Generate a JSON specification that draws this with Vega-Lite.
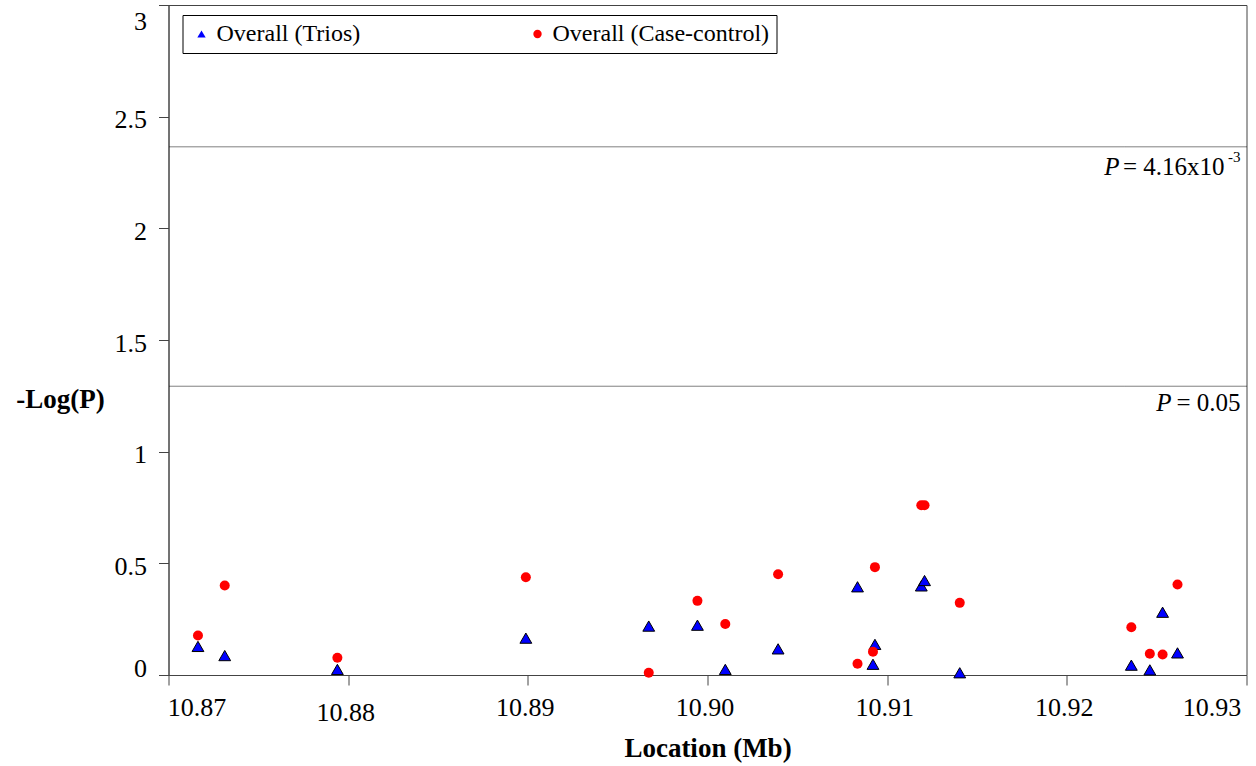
{
  "$schema": "https://vega.github.io/schema/vega-lite/v6.json",
  "width": 1078,
  "height": 670,
  "autosize": {"type": "none"},
  "padding": {"left": 168.5, "top": 5, "right": 9.5, "bottom": 91},
  "background": "white",
  "config": {
    "font": "Liberation Serif",
    "view": {"stroke": "#444", "strokeWidth": 1},
    "axis": {"grid": false, "domainColor": "#444", "tickColor": "#444", "labelColor": "black", "titleColor": "black", "labelFont": "Liberation Serif", "titleFont": "Liberation Serif"}
  },
  "datasets": {
    "points": [
      {"loc": 10.87164, "series": "Overall (Trios)", "logp": 0.128},
      {"loc": 10.87313, "series": "Overall (Trios)", "logp": 0.087},
      {"loc": 10.8794, "series": "Overall (Trios)", "logp": 0.025},
      {"loc": 10.88989, "series": "Overall (Trios)", "logp": 0.165},
      {"loc": 10.89673, "series": "Overall (Trios)", "logp": 0.219},
      {"loc": 10.89944, "series": "Overall (Trios)", "logp": 0.223},
      {"loc": 10.90099, "series": "Overall (Trios)", "logp": 0.025},
      {"loc": 10.90393, "series": "Overall (Trios)", "logp": 0.117},
      {"loc": 10.90835, "series": "Overall (Trios)", "logp": 0.395},
      {"loc": 10.90921, "series": "Overall (Trios)", "logp": 0.048},
      {"loc": 10.90932, "series": "Overall (Trios)", "logp": 0.137},
      {"loc": 10.9119, "series": "Overall (Trios)", "logp": 0.399},
      {"loc": 10.91208, "series": "Overall (Trios)", "logp": 0.423},
      {"loc": 10.91404, "series": "Overall (Trios)", "logp": 0.01},
      {"loc": 10.92359, "series": "Overall (Trios)", "logp": 0.044},
      {"loc": 10.92462, "series": "Overall (Trios)", "logp": 0.023},
      {"loc": 10.92533, "series": "Overall (Trios)", "logp": 0.281},
      {"loc": 10.92616, "series": "Overall (Trios)", "logp": 0.099},
      {"loc": 10.87164, "series": "Overall (Case-control)", "logp": 0.177},
      {"loc": 10.87313, "series": "Overall (Case-control)", "logp": 0.401},
      {"loc": 10.8794, "series": "Overall (Case-control)", "logp": 0.077},
      {"loc": 10.88989, "series": "Overall (Case-control)", "logp": 0.438},
      {"loc": 10.89673, "series": "Overall (Case-control)", "logp": 0.01},
      {"loc": 10.89944, "series": "Overall (Case-control)", "logp": 0.332},
      {"loc": 10.90099, "series": "Overall (Case-control)", "logp": 0.228},
      {"loc": 10.90393, "series": "Overall (Case-control)", "logp": 0.451},
      {"loc": 10.90835, "series": "Overall (Case-control)", "logp": 0.05},
      {"loc": 10.90921, "series": "Overall (Case-control)", "logp": 0.104},
      {"loc": 10.90932, "series": "Overall (Case-control)", "logp": 0.483},
      {"loc": 10.9119, "series": "Overall (Case-control)", "logp": 0.76},
      {"loc": 10.91208, "series": "Overall (Case-control)", "logp": 0.76},
      {"loc": 10.91404, "series": "Overall (Case-control)", "logp": 0.323},
      {"loc": 10.92359, "series": "Overall (Case-control)", "logp": 0.214},
      {"loc": 10.92462, "series": "Overall (Case-control)", "logp": 0.095},
      {"loc": 10.92533, "series": "Overall (Case-control)", "logp": 0.092},
      {"loc": 10.92616, "series": "Overall (Case-control)", "logp": 0.405}
    ],
    "thresholds": [
      {"id": 1, "loc": 10.93, "logp": 2.365, "p": "P", "main": "= 4.16x10", "sup": "-3"},
      {"id": 2, "loc": 10.93, "logp": 1.293, "p": "P", "main": "= 0.05", "sup": ""}
    ]
  },
  "layer": [
    {
      "data": {"name": "thresholds"},
      "mark": {"type": "rule", "stroke": "#000", "strokeDash": [1, 1], "strokeWidth": 1},
      "encoding": {"y": {"field": "logp", "type": "quantitative"}}
    },
    {
      "data": {"name": "points"},
      "mark": {"type": "point", "filled": true, "opacity": 1, "strokeWidth": 1},
      "encoding": {
        "x": {
          "field": "loc", "type": "quantitative",
          "scale": {"domain": [10.87, 10.93], "nice": false, "zero": false},
          "axis": {
            "values": [10.87, 10.88, 10.89, 10.9, 10.91, 10.92, 10.93],
            "format": ".2f",
            "title": "Location (Mb)",
            "titleFontSize": 27, "titleFontWeight": "bold",
            "titleY": 81, "titleBaseline": "alphabetic",
            "labelFontSize": 26, "tickSize": 10,
            "labelPadding": {"condition": {"test": "abs(datum.value - 10.88) < 0.001", "value": 14}, "value": 9},
            "labelOffset": {"condition": [{"test": "datum.value < 10.875", "value": 28}, {"test": "datum.value > 10.925", "value": -35}], "value": -3},
            "labelFlush": false, "labelOverlap": false
          }
        },
        "y": {
          "field": "logp", "type": "quantitative",
          "scale": {"domain": [0, 3], "nice": false},
          "axis": {
            "values": [0, 0.5, 1, 1.5, 2, 2.5, 3],
            "format": "~g",
            "title": "-Log(P)",
            "titleAngle": 0, "titleAlign": "center", "titleBaseline": "alphabetic",
            "titleX": -108.5, "titleY": 402,
            "titleFontSize": 27, "titleFontWeight": "bold",
            "labelFontSize": 26, "tickSize": 10, "labelPadding": 12,
            "labelFlush": false, "labelOverlap": false,
            "labelOffset": {"condition": [{"test": "datum.value == 3", "value": 16}, {"test": "datum.value == 0", "value": -7}], "value": 3}
          }
        },
        "color": {
          "field": "series", "type": "nominal",
          "scale": {"domain": ["Overall (Trios)", "Overall (Case-control)"], "range": ["#0000ff", "#ff0000"]},
          "legend": {
            "title": null, "orient": "none", "legendX": 14, "legendY": 10,
            "direction": "horizontal", "columnPadding": 165, "padding": 7,
            "strokeColor": "black", "fillColor": "white",
            "labelFontSize": 24, "labelFont": "Liberation Serif", "labelColor": "black",
            "symbolSize": 70, "symbolStrokeWidth": 0, "labelOffset": 3, "labelLimit": 400
          }
        },
        "shape": {
          "field": "series", "type": "nominal",
          "scale": {"domain": ["Overall (Trios)", "Overall (Case-control)"], "range": ["triangle-up", "circle"]}
        },
        "size": {"condition": {"test": "datum.series == 'Overall (Trios)'", "value": 140}, "value": 100},
        "stroke": {"condition": {"test": "datum.series == 'Overall (Trios)'", "value": "black"}, "value": "transparent"}
      }
    },
    {
      "data": {"name": "thresholds"},
      "transform": [{"filter": "datum.id == 1"}],
      "mark": {"type": "text", "align": "right", "baseline": "alphabetic", "dx": -127, "dy": 28, "fontSize": 25, "fontStyle": "italic", "color": "black"},
      "encoding": {"x": {"field": "loc", "type": "quantitative"}, "y": {"field": "logp", "type": "quantitative"}, "text": {"field": "p"}}
    },
    {
      "data": {"name": "thresholds"},
      "transform": [{"filter": "datum.id == 1"}],
      "mark": {"type": "text", "align": "right", "baseline": "alphabetic", "dx": -22, "dy": 28, "fontSize": 25, "color": "black"},
      "encoding": {"x": {"field": "loc", "type": "quantitative"}, "y": {"field": "logp", "type": "quantitative"}, "text": {"field": "main"}}
    },
    {
      "data": {"name": "thresholds"},
      "transform": [{"filter": "datum.id == 1"}],
      "mark": {"type": "text", "align": "right", "baseline": "alphabetic", "dx": -6, "dy": 15, "fontSize": 15, "color": "black"},
      "encoding": {"x": {"field": "loc", "type": "quantitative"}, "y": {"field": "logp", "type": "quantitative"}, "text": {"field": "sup"}}
    },
    {
      "data": {"name": "thresholds"},
      "transform": [{"filter": "datum.id == 2"}],
      "mark": {"type": "text", "align": "right", "baseline": "alphabetic", "dx": -75, "dy": 25, "fontSize": 25, "fontStyle": "italic", "color": "black"},
      "encoding": {"x": {"field": "loc", "type": "quantitative"}, "y": {"field": "logp", "type": "quantitative"}, "text": {"field": "p"}}
    },
    {
      "data": {"name": "thresholds"},
      "transform": [{"filter": "datum.id == 2"}],
      "mark": {"type": "text", "align": "right", "baseline": "alphabetic", "dx": -6, "dy": 25, "fontSize": 25, "color": "black"},
      "encoding": {"x": {"field": "loc", "type": "quantitative"}, "y": {"field": "logp", "type": "quantitative"}, "text": {"field": "main"}}
    }
  ]
}
